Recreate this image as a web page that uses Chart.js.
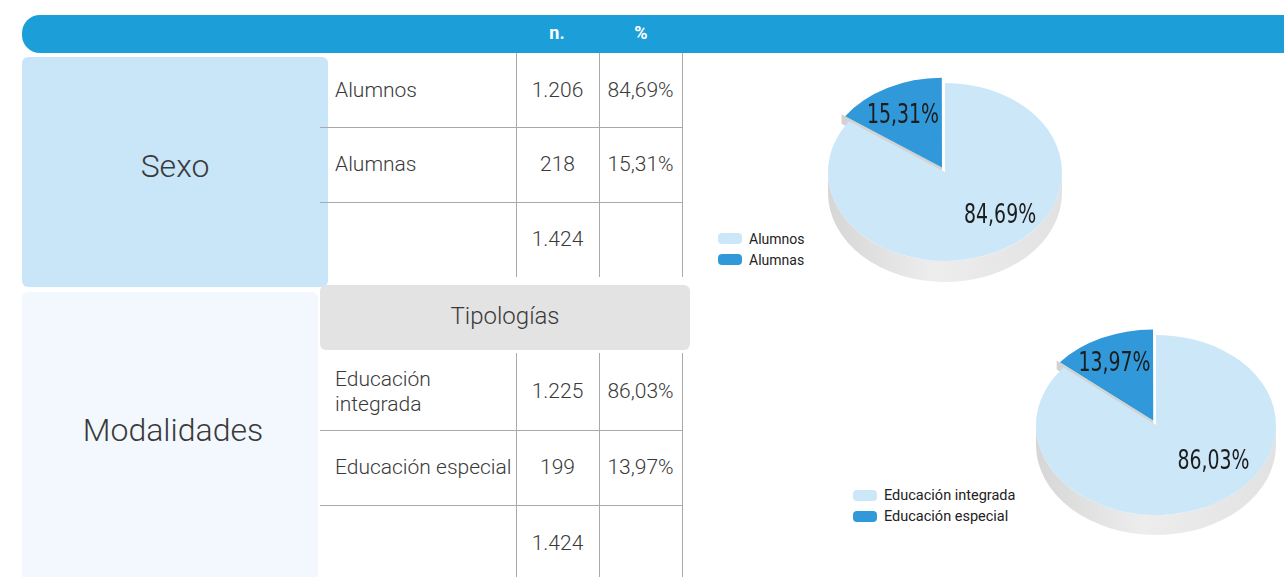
<!DOCTYPE html>
<html>
<head>
<meta charset="utf-8">
<script src="https://cdn.jsdelivr.net/npm/chart.js@4/dist/chart.umd.min.js"></script>
<style>
  html,body{margin:0;padding:0;background:#fff;width:1284px;height:577px;overflow:hidden;}
  body{position:relative;font-family:Roboto,"Open Sans",sans-serif;color:#3a3a3a;}
  .abs{position:absolute;}
  .banner{left:22px;top:15px;width:1270px;height:38px;background:#1c9fd9;border-radius:18px 0 0 18px;}
  .hdr{color:#fff;font-weight:700;font-size:18px;top:22px;height:22px;line-height:22px;text-align:center;width:60px;}
  .box-sexo{left:22px;top:57px;width:306px;height:230px;background:#c8e6f8;border-radius:6px;}
  .box-mod{left:22px;top:292px;width:296px;height:300px;background:#f2f8fd;border-radius:6px;}
  .box-tip{left:320px;top:285px;width:370px;height:65px;background:#e3e3e3;border-radius:6px;}
  .big{font-weight:300;font-size:32px;text-align:center;}
  .cell{display:flex;align-items:center;font-weight:300;font-size:21px;line-height:25px;}
  .num{justify-content:center;}
  .hline{height:1px;background:#aaa;}
  .vline{width:1px;background:#aaa;}
  .leg{display:flex;align-items:center;font-size:14px;color:#222;height:21px;}
  .sw{width:24px;height:11px;border-radius:4px;margin-right:7px;}
</style>
</head>
<body>
<div class="abs banner"></div>
<div class="abs hdr" id="hN" style="left:527px;">n.</div>
<div class="abs hdr" id="hP" style="left:611px;">%</div>
<div class="abs box-sexo"></div>
<div class="abs box-mod"></div>
<div class="abs box-tip"></div>
<div class="abs big" style="left:22px;width:306px;top:147px;">Sexo</div>
<div class="abs big" style="left:22px;width:302px;top:411px;">Modalidades</div>
<div class="abs" style="left:320px;width:370px;top:302px;font-size:24px;font-weight:300;text-align:center;">Tipologías</div>
<div id="tables"></div>
<canvas id="pie1" class="abs" width="260" height="260" style="left:815px;top:42px;"></canvas>
<canvas id="pie2" class="abs" width="250" height="260" style="left:1031px;top:295px;"></canvas>
<div id="leg1" class="abs" style="left:718px;top:228px;"></div>
<div id="leg2" class="abs" style="left:853px;top:485px;font-size:14.5px;"></div>
<script>
// ---- data ----
const headerLabels = ['n.', '%'];
const sexoLabels = ['Alumnos', 'Alumnas'];
const sexoN = [1206, 218];
const sexoPct = [84.69, 15.31];
const sexoTotal = 1424;
const modLabels = ['Educación integrada', 'Educación especial'];
const modN = [1225, 199];
const modPct = [86.03, 13.97];
const modTotal = 1424;
const pieColors = ['#cce7f8', '#3199d9'];

// ---- helpers ----
function fmtN(n){ return String(n).replace(/\B(?=(\d{3})+(?!\d))/g, '.'); }
function fmtP(p){ return p.toFixed(2).replace('.', ',') + '%'; }

document.getElementById('hN').textContent = headerLabels[0];
document.getElementById('hP').textContent = headerLabels[1];

function el(cls, style, text){
  const d = document.createElement('div');
  d.className = 'abs ' + cls;
  Object.assign(d.style, style);
  if (text !== undefined) d.textContent = text;
  document.getElementById('tables').appendChild(d);
  return d;
}
function buildTable(rows, lineTop, labels, ns, pcts, total){
  const cols = [516, 599, 682];
  const bottom = rows[rows.length - 1];
  cols.forEach(x => el('vline', {left: x + 'px', top: lineTop + 'px', height: (bottom - lineTop) + 'px'}));
  for (let i = 1; i < rows.length - 1; i++) {
    el('hline', {left: '320px', width: '363px', top: rows[i] + 'px'});
  }
  const cellVals = labels.map((l, i) => [l, fmtN(ns[i]), fmtP(pcts[i])]);
  cellVals.push(['', fmtN(total), '']);
  cellVals.forEach((vals, i) => {
    const t = rows[i], h = rows[i + 1] - rows[i];
    el('cell', {left: '335px', width: '181px', top: t + 'px', height: h + 'px'}, vals[0]);
    el('cell num', {left: '516px', width: '83px', top: t + 'px', height: h + 'px'}, vals[1]);
    el('cell num', {left: '599px', width: '83px', top: t + 'px', height: h + 'px'}, vals[2]);
  });
}
buildTable([53, 127, 202, 277], 53, sexoLabels, sexoN, sexoPct, sexoTotal);
buildTable([353, 430, 505, 582], 353, modLabels, modN, modPct, modTotal);

function buildLegend(id, labels){
  const c = document.getElementById(id);
  labels.forEach((l, i) => {
    const row = document.createElement('div');
    row.className = 'leg';
    row.style.fontSize = 'inherit';
    const sw = document.createElement('div');
    sw.className = 'sw';
    sw.style.background = pieColors[i];
    row.appendChild(sw);
    const t = document.createElement('span');
    t.textContent = l;
    row.appendChild(t);
    c.appendChild(row);
  });
}
document.getElementById('leg1').style.fontSize = '14px';
buildLegend('leg1', sexoLabels);
buildLegend('leg2', modLabels);

// ---- tilted 3D pie plugin ----
// Chart.js v4 arcs translate by offset/4 and grow their radius by offset/4
const tiltPlugin = {
  id: 'tilt',
  beforeDatasetsDraw(chart, args, opts){
    const ctx = chart.ctx;
    const meta = chart.getDatasetMeta(0);
    const a = meta.data[0];
    const cx = a.x, cy = a.y, R = a.outerRadius;
    ctx.save();
    ctx.translate(cx, cy); ctx.scale(1, opts.k); ctx.translate(-cx, -cy);
    const d = opts.depth / opts.k;
    const g = ctx.createLinearGradient(cx - R, 0, cx + R, 0);
    g.addColorStop(0, '#d6d6d6');
    g.addColorStop(0.45, '#ededed');
    g.addColorStop(1, '#e2e2e2');
    ctx.fillStyle = g;
    ctx.beginPath();
    ctx.moveTo(cx + R, cy);
    ctx.lineTo(cx + R, cy + d);
    ctx.arc(cx, cy + d, R, 0, Math.PI, false);
    ctx.lineTo(cx - R, cy);
    ctx.arc(cx, cy, R, Math.PI, 0, true);
    ctx.closePath();
    ctx.fill();
    // side face of the exploded slice, visible in the gap
    meta.data.forEach(arc => {
      const off = (arc.options.offset || 0) / 4;
      if (!off) return;
      const half = (arc.startAngle + arc.endAngle) / 2;
      const vx = cx + Math.cos(half) * off, vy = cy + Math.sin(half) * off;
      const rr = R + off - 1;
      const px = vx + Math.cos(arc.startAngle) * rr, py = vy + Math.sin(arc.startAngle) * rr;
      ctx.fillStyle = '#d2d2d2';
      ctx.beginPath();
      ctx.moveTo(vx, vy);
      ctx.lineTo(px, py);
      ctx.lineTo(px, py + d * 0.45);
      ctx.lineTo(vx, vy + d * 0.45);
      ctx.closePath();
      ctx.fill();
    });
  },
  afterDatasetsDraw(chart, args, opts){
    const ctx = chart.ctx;
    ctx.restore();
    const meta = chart.getDatasetMeta(0);
    const ds = chart.data.datasets[0];
    meta.data.forEach((a, i) => {
      const ang = a.startAngle + opts.frac[i] * (a.endAngle - a.startAngle);
      const half = (a.startAngle + a.endAngle) / 2;
      const off = (a.options.offset || 0) / 4;
      const r = opts.rad[i] * a.outerRadius;
      const x = a.x + Math.cos(ang) * r + Math.cos(half) * off;
      const y = a.y + (Math.sin(ang) * r + Math.sin(half) * off) * opts.k + opts.dy;
      ctx.save();
      ctx.translate(x, y);
      ctx.scale(0.7, 1);
      ctx.font = '27px "DejaVu Sans", sans-serif';
      ctx.fillStyle = '#1c1c1c';
      ctx.textAlign = 'center';
      ctx.textBaseline = 'middle';
      ctx.fillText(fmtP(ds.pct[i]), 0, 0);
      ctx.restore();
    });
  }
};

function makePie(id, labels, values, pcts, R, k, depth, frac, rad){
  new Chart(document.getElementById(id), {
    type: 'pie',
    data: {
      labels: labels,
      datasets: [{
        data: values,
        pct: pcts,
        backgroundColor: pieColors,
        borderWidth: 0,
        offset: [0, 26],
        clip: false
      }]
    },
    options: {
      responsive: false,
      animation: false,
      radius: R,
      layout: {padding: 0},
      events: [],
      plugins: {
        legend: {display: false},
        tooltip: {enabled: false},
        tilt: {k: k, depth: depth, frac: frac, rad: rad, dy: 5}
      }
    },
    plugins: [tiltPlugin]
  });
}
makePie('pie1', sexoLabels, sexoN, sexoPct, 117, 0.76, 21, [0.435, 0.5], [0.64, 0.72]);
makePie('pie2', modLabels, modN, modPct, 120, 0.75, 20, [0.41, 0.5], [0.6, 0.76]);
</script>
</body>
</html>
